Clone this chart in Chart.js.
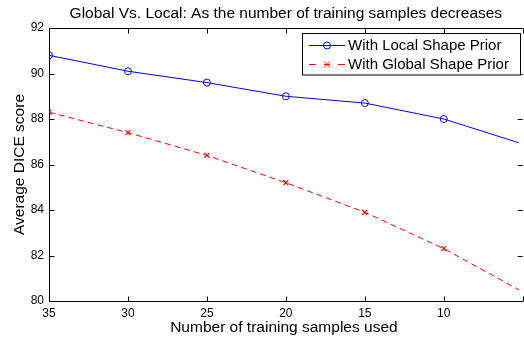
<!DOCTYPE html>
<html>
<head>
<meta charset="utf-8">
<script src="https://cdn.jsdelivr.net/npm/chart.js@4"></script>
<style>
  html, body { margin: 0; padding: 0; background: #fff; overflow: hidden; width: 524px; height: 341px; }
  #wrap { width: 524px; height: 341px; overflow: hidden; }
</style>
</head>
<body>
<div id="wrap"><canvas id="c" width="524" height="341"></canvas></div>
<script>
const samples = [35, 30, 25, 20, 15, 10, 5];
const localPrior = [90.8, 90.1, 89.6, 89.0, 88.7, 88.0, 86.9];
const globalPrior = [88.3, 87.4, 86.4, 85.2, 83.9, 82.3, 80.4];
const xTicks = [35, 30, 25, 20, 15, 10, 5];
const yTicks = [80, 82, 84, 86, 88, 90, 92];
const xVisibleEnd = 5.25;
const titleText = 'Global Vs. Local: As the number of training samples decreases';
const xTitle = 'Number of training samples used';
const yTitle = 'Average DICE score';
const seriesNames = ['With Local Shape Prior', 'With Global Shape Prior'];

const FONT = '"Liberation Sans", Arial, Helvetica, sans-serif';

const boxPlugin = {
  id: 'matlabBox',
  afterDatasetsDraw(chart) {
    const ctx = chart.ctx;
    const a = chart.chartArea;
    const xs = chart.scales.x, ys = chart.scales.y;
    const farRight = xs.getPixelForValue(5);
    ctx.save();
    ctx.strokeStyle = '#000';
    ctx.lineWidth = 1;
    const L = Math.round(a.left) + 0.5, T = Math.round(a.top) + 0.5, B = Math.round(a.bottom) + 0.5;
    ctx.beginPath();
    ctx.moveTo(farRight, T); ctx.lineTo(L, T); ctx.lineTo(L, B); ctx.lineTo(farRight, B);
    ctx.stroke();
    const tl = 5;
    ctx.beginPath();
    xTicks.forEach(v => {
      const px = Math.round(xs.getPixelForValue(v)) + 0.5;
      ctx.moveTo(px, B); ctx.lineTo(px, B - tl);
      ctx.moveTo(px, T); ctx.lineTo(px, T + tl);
    });
    yTicks.forEach(v => {
      const py = Math.round(ys.getPixelForValue(v)) + 0.5;
      ctx.moveTo(L, py); ctx.lineTo(L + tl, py);
      ctx.moveTo(farRight, py); ctx.lineTo(farRight - tl, py);
    });
    ctx.stroke();

    // title
    ctx.fillStyle = '#000';
    ctx.font = '15.5px ' + FONT;
    ctx.textAlign = 'center';
    ctx.textBaseline = 'alphabetic';
    ctx.fillText(titleText, (a.left + farRight) / 2, 18);

    // legend
    const lx = 302.5, ly = 33.5, lw = 218, lh = 41.5;
    ctx.fillStyle = '#fff';
    ctx.fillRect(lx, ly, lw, lh);
    ctx.strokeStyle = '#000';
    ctx.strokeRect(lx, ly, lw, lh);
    const rows = [
      { y: 45, color: '#0000ff', dash: [], name: seriesNames[0], marker: 'circle' },
      { y: 64, color: '#ff0000', dash: [6, 4], name: seriesNames[1], marker: 'x' }
    ];
    rows.forEach(r => {
      ctx.strokeStyle = r.color;
      ctx.lineWidth = 1;
      ctx.beginPath();
      if (r.dash.length) {
        ctx.moveTo(309, r.y + 0.5); ctx.lineTo(316, r.y + 0.5);
        ctx.moveTo(338, r.y + 0.5); ctx.lineTo(345, r.y + 0.5);
      } else {
        ctx.moveTo(309, r.y + 0.5); ctx.lineTo(345, r.y + 0.5);
      }
      ctx.stroke();
      ctx.beginPath();
      if (r.marker === 'circle') {
        ctx.arc(327, r.y + 0.5, 3.5, 0, Math.PI * 2);
      } else {
        const s = 3;
        ctx.moveTo(327 - s, r.y + 0.5 - s); ctx.lineTo(327 + s, r.y + 0.5 + s);
        ctx.moveTo(327 + s, r.y + 0.5 - s); ctx.lineTo(327 - s, r.y + 0.5 + s);
        ctx.moveTo(327 - s, r.y + 0.5); ctx.lineTo(327 + s, r.y + 0.5);
      }
      ctx.stroke();
      ctx.fillStyle = '#000';
      ctx.font = '15px ' + FONT;
      ctx.textAlign = 'left';
      ctx.textBaseline = 'middle';
      ctx.fillText(r.name, 348, r.y + 1);
    });
    ctx.restore();
  }
};

new Chart(document.getElementById('c'), {
  type: 'line',
  data: {
    datasets: [
      {
        label: seriesNames[0],
        data: samples.map((s, i) => ({ x: s, y: localPrior[i] })),
        borderColor: '#0000ff',
        borderWidth: 1,
        pointStyle: 'circle',
        pointRadius: 3.5,
        pointBorderColor: '#0000ff',
        pointBackgroundColor: 'rgba(0,0,0,0)',
        pointBorderWidth: 1,
        tension: 0
      },
      {
        label: seriesNames[1],
        data: samples.map((s, i) => ({ x: s, y: globalPrior[i] })),
        borderColor: '#ff0000',
        borderWidth: 1,
        borderDash: [6, 4],
        pointStyle: 'crossRot',
        pointRadius: 3.5,
        pointBorderColor: '#ff0000',
        pointBorderWidth: 1.2,
        tension: 0
      }
    ]
  },
  options: {
    responsive: false,
    animation: false,
    events: [],
    layout: { padding: { top: 28, right: 1, left: 0, bottom: 0 } },
    plugins: { legend: { display: false }, title: { display: false }, tooltip: { enabled: false } },
    scales: {
      x: {
        type: 'linear',
        reverse: true,
        min: xVisibleEnd,
        max: 35,
        afterBuildTicks: s => { s.ticks = xTicks.filter(v => v >= xVisibleEnd).map(v => ({ value: v })); },
        afterFit: s => { s.height = 40; },
        grid: { display: false, drawTicks: false },
        border: { display: false },
        ticks: { color: '#000', font: { family: FONT, size: 12 }, padding: 5, maxRotation: 0, autoSkip: false },
        title: { display: true, text: xTitle, color: '#000', font: { family: FONT, size: 15.5 }, padding: { top: 0, bottom: 4 } }
      },
      y: {
        min: 80,
        max: 92,
        afterBuildTicks: s => { s.ticks = yTicks.map(v => ({ value: v })); },
        afterFit: s => { s.width = 49; },
        grid: { display: false, drawTicks: false },
        border: { display: false },
        ticks: { color: '#000', font: { family: FONT, size: 12 }, padding: 5 },
        title: { display: true, text: yTitle, color: '#000', font: { family: FONT, size: 15.5 }, padding: { top: 10, bottom: 0 } }
      }
    }
  },
  plugins: [boxPlugin]
});
</script>
</body>
</html>
